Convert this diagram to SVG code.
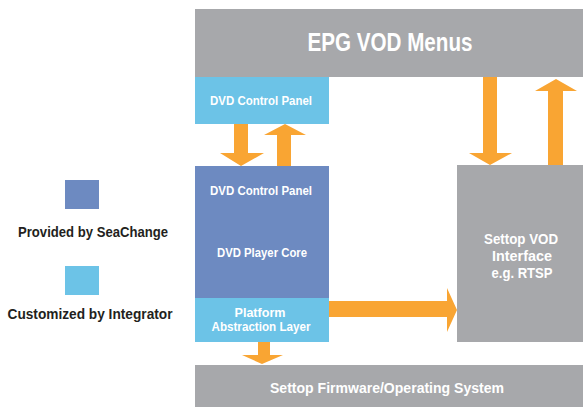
<svg xmlns="http://www.w3.org/2000/svg" width="583" height="407" viewBox="0 0 583 407">
<style>
.gray{fill:#a7a8ab}
.blue{fill:#6d8ac1}
.lblue{fill:#6cc3e7}
.arr{fill:#f9a533}
text{font-family:"Liberation Sans",Arial,sans-serif;font-weight:bold;text-anchor:middle}
.w{fill:#ffffff}
.k{fill:#231f20;font-size:15px}
</style>
<rect width="583" height="407" fill="#ffffff"/>
<g id="epg">
<rect class="gray" x="195" y="9" width="388" height="68"/>
<text class="w" x="390" y="51" font-size="25" textLength="165" lengthAdjust="spacingAndGlyphs">EPG VOD Menus</text>
</g>
<g id="dvd-control-top">
<rect class="lblue" x="195" y="77" width="134" height="47"/>
<text class="w" x="261" y="105" font-size="13.5" textLength="102" lengthAdjust="spacingAndGlyphs">DVD Control Panel</text>
</g>
<g id="dvd-core">
<rect class="blue" x="195" y="166" width="134" height="132"/>
<text class="w" x="261" y="195" font-size="13.5" textLength="102" lengthAdjust="spacingAndGlyphs">DVD Control Panel</text>
<text class="w" x="262" y="257" font-size="13.5" textLength="90" lengthAdjust="spacingAndGlyphs">DVD Player Core</text>
</g>
<g id="pal">
<rect class="lblue" x="195" y="298" width="134" height="44"/>
<text class="w" x="260" y="317" font-size="12.5" textLength="51" lengthAdjust="spacingAndGlyphs">Platform</text>
<text class="w" x="261" y="330.5" font-size="12.5" textLength="99" lengthAdjust="spacingAndGlyphs">Abstraction Layer</text>
</g>
<g id="vod">
<rect class="gray" x="457" y="165" width="126" height="177"/>
<text class="w" x="521" y="244" font-size="14.5" textLength="74" lengthAdjust="spacingAndGlyphs">Settop VOD</text>
<text class="w" x="522" y="261" font-size="14.5" textLength="60" lengthAdjust="spacingAndGlyphs">Interface</text>
<text class="w" x="522" y="278" font-size="14.5" textLength="61" lengthAdjust="spacingAndGlyphs">e.g. RTSP</text>
</g>
<g id="firmware">
<rect class="gray" x="195" y="365" width="388" height="42"/>
<text class="w" x="387" y="393" font-size="14.5" textLength="234" lengthAdjust="spacingAndGlyphs">Settop Firmware/Operating System</text>
</g>
<g id="legend">
<rect class="blue" x="65" y="180" width="34" height="29"/>
<text class="k" x="93" y="237" textLength="150" lengthAdjust="spacingAndGlyphs">Provided by SeaChange</text>
<rect class="lblue" x="65" y="266" width="34" height="29"/>
<text class="k" x="90" y="319" textLength="165" lengthAdjust="spacingAndGlyphs">Customized by Integrator</text>
</g>
<g id="connectors">
<polygon class="arr" points="234,124 248,124 248,153 264,153 241,166 220,153 234,153"/>
<polygon class="arr" points="277,166 291,166 291,135 306,135 285,124 264,135 277,135"/>
<polygon class="arr" points="483,77 497,77 497,153 512,153 490,165 469,153 483,153"/>
<polygon class="arr" points="548,165 563,165 563,91 577,91 556,79 535,91 548,91"/>
<polygon class="arr" points="329,301 447,301 447,288 457,310 447,332 447,317 329,317"/>
<polygon class="arr" points="258,342 270,342 270,355 283,355 262,364 242,355 258,355"/>
</g>
</svg>
